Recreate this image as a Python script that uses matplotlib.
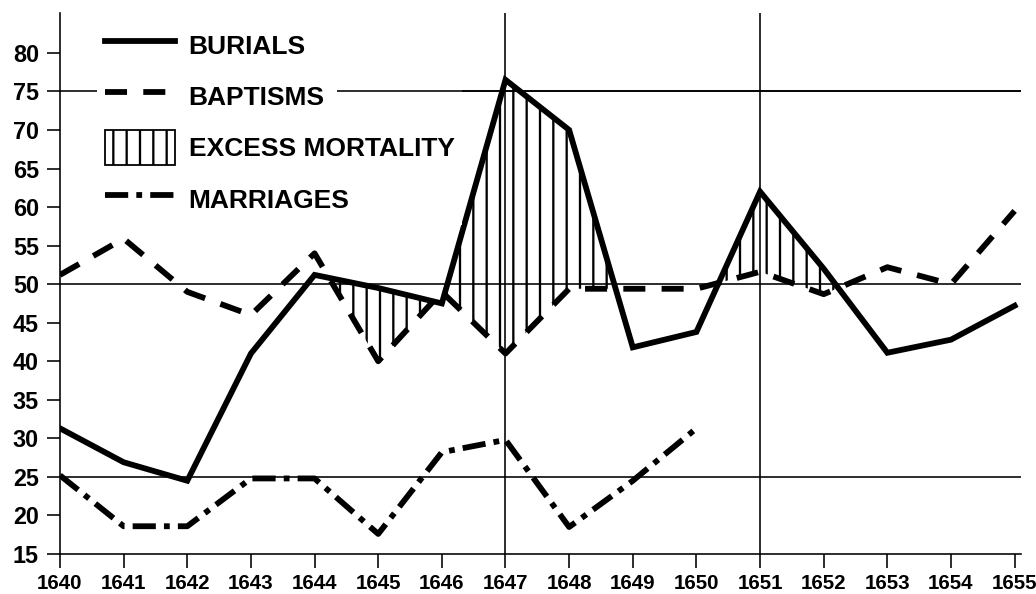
import matplotlib
matplotlib.use("Agg")
import matplotlib.pyplot as plt
import numpy as np
from matplotlib.patches import Patch
from matplotlib.lines import Line2D

# data
years = np.arange(1640, 1656)
burials = [31.3, 26.9, 24.5, 41.0, 51.2, 49.5, 47.5, 76.5, 70.0, 41.8, 43.8, 62.0, 52.0, 41.1, 42.8, 47.2]
baptisms = [51.2, 55.9, 49.0, 46.0, 54.0, 40.0, 49.0, 41.0, 49.4, 49.4, 49.4, 51.6, 48.7, 52.2, 50.0, 59.5]
marriage_years = np.arange(1640, 1651)
marriages = [25.2, 18.6, 18.6, 24.8, 24.8, 17.6, 28.2, 29.8, 18.5, 24.5, 31.3]
yticks = np.arange(15, 85, 5)
grid_y = [25, 50, 75]
grid_x = [1647, 1651]
labels = ["BURIALS", "BAPTISMS", "EXCESS MORTALITY", "MARRIAGES"]

DPI = 80
px = 72 / DPI  # points per pixel

plt.rcParams['font.family'] = ['Liberation Sans', 'DejaVu Sans']
plt.rcParams['font.weight'] = 'bold'
plt.rcParams['hatch.linewidth'] = 2.3 * px
plt.rcParams['hatch.color'] = 'black'

fig = plt.figure(figsize=(1036 / DPI, 594 / DPI), dpi=DPI)
ax = fig.add_axes([60 / 1036, 40 / 594, 961 / 1036, 541 / 594])

lw = 5.8 * px
dash_b = (3.8, 2.8)
dash_m = (4.0, 1.4, 1.0, 1.4)

bur = np.array(burials)
bap = np.array(baptisms)
ax.fill_between(years, bap, bur, where=bur > bap, interpolate=True,
                facecolor='none', edgecolor='black', hatch='|', linewidth=0, zorder=2)

ax.plot(years, burials, color='black', lw=lw, solid_joinstyle='miter', zorder=4)
ax.plot(years, baptisms, color='black', lw=lw, dashes=dash_b, dash_capstyle='butt', zorder=3)
ax.plot(marriage_years, marriages, color='black', lw=lw, dashes=dash_m,
        dash_capstyle='butt', zorder=3)

for y in grid_y:
    ax.axhline(y, color='black', lw=1.6 * px, zorder=1)
for x in grid_x:
    ax.axvline(x, color='black', lw=1.6 * px, zorder=1)

ax.set_xlim(1640, 1655.1)
ax.set_ylim(15, 15 + 541 / 7.71)
ax.set_xticks(years)
ax.set_yticks(yticks)
ax.tick_params(axis='y', length=13 * px, width=1.6 * px, pad=8 * px, labelsize=21)
ax.tick_params(axis='x', length=14 * px, width=1.6 * px, pad=6 * px, labelsize=18.5)
for s in ['top', 'right']:
    ax.spines[s].set_visible(False)
for s in ['left', 'bottom']:
    ax.spines[s].set_linewidth(1.6 * px)

handles = [
    Line2D([], [], color='black', lw=lw),
    Line2D([], [], color='black', lw=lw, dashes=dash_b, dash_capstyle='butt'),
    Patch(facecolor='white', edgecolor='black', hatch='|', lw=1.8 * px),
    Line2D([], [], color='black', lw=lw, dashes=dash_m, dash_capstyle='butt'),
]
leg = ax.legend(handles, labels, loc='upper left', bbox_to_anchor=(0.039, 0.9875),
                fontsize=23.7, frameon=True, fancybox=False, edgecolor='none',
                facecolor='white', framealpha=1, borderpad=0.3, borderaxespad=0,
                handlelength=2.66, handleheight=1.67, handletextpad=0.5, labelspacing=0.62)
leg.set_zorder(5)

# the 75 line shows again just after the BAPTISMS label
fig.canvas.draw()
bb = leg.get_texts()[1].get_window_extent()
x_start = ax.transData.inverted().transform((bb.x1 + 12, 0))[0]
ax.hlines(75, x_start, 1655.1, color='black', lw=1.6 * px, zorder=6)

fig.savefig('out.png', dpi=DPI)
